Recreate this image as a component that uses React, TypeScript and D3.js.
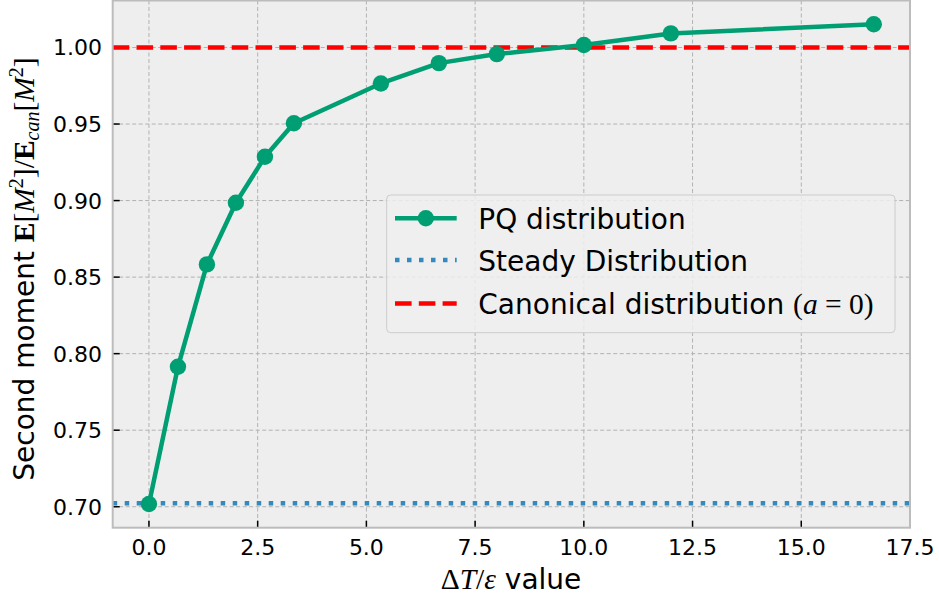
import React from "react";
import * as d3 from "d3";

const xValues = [0, 0.667, 1.333, 2, 2.667, 3.333, 5.333, 6.667, 8, 10, 12, 16.667];
const pqValues = [0.7018, 0.7914, 0.8583, 0.8986, 0.9286, 0.9505, 0.9765, 0.9898, 0.9957, 1.0016, 1.0092, 1.0152];
const steadyValue = 0.7022;
const canonicalValue = 1.0;
const xTicks = [0, 2.5, 5, 7.5, 10, 12.5, 15, 17.5];
const yTicks = [0.7, 0.75, 0.8, 0.85, 0.9, 0.95, 1.0];

const W = 939;
const H = 601;
const L = 112.7, R = 910, T = 0.5, B = 527.7;

const SANS = "DejaVu Sans, sans-serif";
const SERIF = "Liberation Serif, DejaVu Serif, serif";
const TICK_FS = 22;
const LAB_FS = 28;
const MATH_FS = 29.5;
const SUP_FS = 20;

export default function App() {
  const x = d3.scaleLinear().domain([-0.8333, 17.5]).range([L, R]);
  const y = d3.scaleLinear().domain([0.6863, 1.0307]).range([B, T]);
  const line = d3
    .line<number>()
    .x((_, i) => x(xValues[i]))
    .y((d) => y(d));

  const green = "#009E73";
  const blue = "#348ABD";
  const red = "#FF0000";

  return (
    <div>
      <style>{`body{margin:0}`}</style>
      <svg width={W} height={H} style={{ display: "block", background: "#fff" }}>
        <defs>
          <clipPath id="plot">
            <rect x={L} y={T} width={R - L} height={B - T} />
          </clipPath>
        </defs>
        <rect x={L} y={T} width={R - L} height={B - T} fill="#eeeeee" />
        {/* grid */}
        {xTicks.map((t) => (
          <line key={"gx" + t} x1={x(t)} x2={x(t)} y1={T} y2={B} stroke="#b2b2b2" strokeWidth={1} strokeDasharray="4,2.5" />
        ))}
        {yTicks.map((t) => (
          <line key={"gy" + t} x1={L} x2={R} y1={y(t)} y2={y(t)} stroke="#b2b2b2" strokeWidth={1} strokeDasharray="4,2.5" />
        ))}
        {/* ticks */}
        {xTicks.map((t) => (
          <line key={"tx" + t} x1={x(t)} x2={x(t)} y1={B} y2={B - 7} stroke="#000" strokeWidth={1.5} />
        ))}
        {yTicks.map((t) => (
          <line key={"ty" + t} x1={L} x2={L + 7} y1={y(t)} y2={y(t)} stroke="#000" strokeWidth={1.5} />
        ))}
        <g clipPath="url(#plot)">
          <line x1={L} x2={R} y1={y(steadyValue)} y2={y(steadyValue)} stroke={blue} strokeWidth={4.5} strokeDasharray="4.5,7.5" />
          <line x1={L} x2={R} y1={y(canonicalValue)} y2={y(canonicalValue)} stroke={red} strokeWidth={4.5} strokeDasharray="16.6,7.2" />
          <path d={line(pqValues) || ""} fill="none" stroke={green} strokeWidth={4.5} strokeLinejoin="round" />
          {pqValues.map((v, i) => (
            <circle key={i} cx={x(xValues[i])} cy={y(v)} r={8.2} fill={green} />
          ))}
        </g>
        {/* spines */}
        <rect x={L} y={T} width={R - L} height={B - T} fill="none" stroke="#bcbcbc" strokeWidth={2} />
        {/* tick labels */}
        {xTicks.map((t) => (
          <text key={"lx" + t} x={x(t)} y={555} textAnchor="middle" fontFamily={SANS} fontSize={TICK_FS} fill="#000">
            {t.toFixed(1)}
          </text>
        ))}
        {yTicks.map((t) => (
          <text key={"ly" + t} x={102} y={y(t) + 8} textAnchor="end" fontFamily={SANS} fontSize={TICK_FS} fill="#000">
            {t.toFixed(2)}
          </text>
        ))}
        {/* x label */}
        <text x={511} y={589} textAnchor="middle" fontSize={LAB_FS} fill="#000">
          <tspan fontFamily={SERIF} fontSize={MATH_FS}>Δ</tspan>
          <tspan fontFamily={SERIF} fontStyle="italic" fontSize={MATH_FS}>T</tspan>
          <tspan fontFamily={SERIF} fontSize={MATH_FS}>/</tspan>
          <tspan fontFamily={SERIF} fontStyle="italic" fontSize={MATH_FS}>ε</tspan>
          <tspan fontFamily={SANS}> value</tspan>
        </text>
        {/* y label */}
        <text transform={`translate(34,269) rotate(-90)`} textAnchor="middle" fontSize={LAB_FS} fill="#000">
          <tspan fontFamily={SANS}>Second moment </tspan>
          <tspan fontFamily={SERIF} fontWeight="bold" fontSize={MATH_FS}>E</tspan>
          <tspan fontFamily={SERIF} fontSize={MATH_FS}>[</tspan>
          <tspan fontFamily={SERIF} fontStyle="italic" fontSize={MATH_FS}>M</tspan>
          <tspan fontFamily={SERIF} fontSize={SUP_FS} dy={-11}>2</tspan>
          <tspan fontFamily={SERIF} fontSize={MATH_FS} dy={11}>]/</tspan>
          <tspan fontFamily={SERIF} fontWeight="bold" fontSize={MATH_FS}>E</tspan>
          <tspan fontFamily={SERIF} fontStyle="italic" fontSize={SUP_FS} dy={5}>can</tspan>
          <tspan fontFamily={SERIF} fontSize={MATH_FS} dy={-5}>[</tspan>
          <tspan fontFamily={SERIF} fontStyle="italic" fontSize={MATH_FS}>M</tspan>
          <tspan fontFamily={SERIF} fontSize={SUP_FS} dy={-11}>2</tspan>
          <tspan fontFamily={SERIF} fontSize={MATH_FS} dy={11}>]</tspan>
        </text>
        {/* legend */}
        <g>
          <rect x={386.7} y={195} width={508.3} height={137.7} rx={4} fill="#eeeeee" fillOpacity={0.85} stroke="#cccccc" strokeWidth={1} />
          <line x1={395} x2={456.7} y1={218.3} y2={218.3} stroke={green} strokeWidth={4.5} />
          <circle cx={425.8} cy={218.3} r={8.2} fill={green} />
          <text x={478.3} y={228.5} fontFamily={SANS} fontSize={LAB_FS} fill="#000">PQ distribution</text>
          <line x1={395} x2={456.7} y1={260} y2={260} stroke={blue} strokeWidth={4.5} strokeDasharray="4.5,7.5" />
          <text x={478.3} y={270.5} fontFamily={SANS} fontSize={LAB_FS} fill="#000">Steady Distribution</text>
          <line x1={395} x2={456.7} y1={303.5} y2={303.5} stroke={red} strokeWidth={4.5} strokeDasharray="16.6,7.2" />
          <text x={478.3} y={313.5} fontSize={LAB_FS} fill="#000">
            <tspan fontFamily={SANS}>Canonical distribution </tspan>
            <tspan fontFamily={SERIF} fontSize={MATH_FS}>(</tspan>
            <tspan fontFamily={SERIF} fontStyle="italic" fontSize={MATH_FS}>a</tspan>
            <tspan fontFamily={SERIF} fontSize={MATH_FS}> = 0)</tspan>
          </text>
        </g>
      </svg>
    </div>
  );
}
